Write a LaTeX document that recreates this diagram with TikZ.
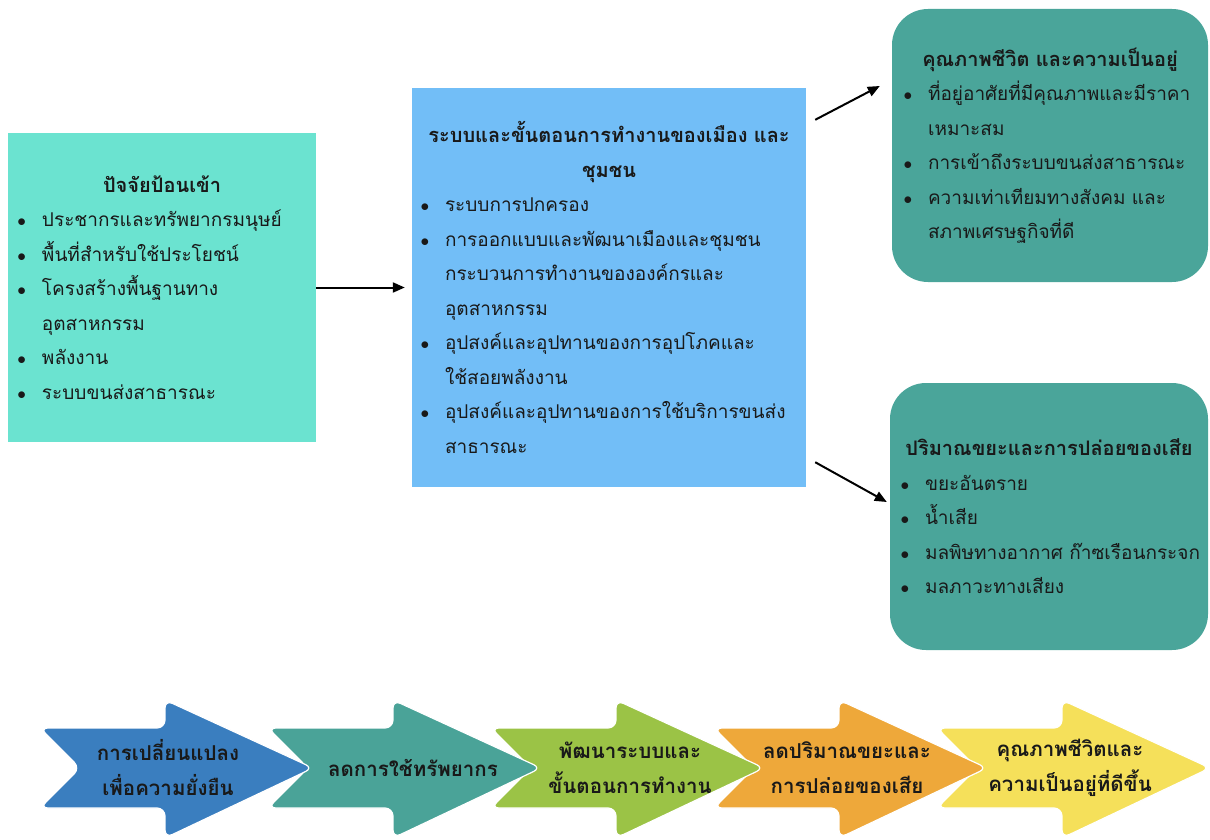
\documentclass[tikz,border=0pt]{standalone}
\usepackage{fontspec}
\setmainfont[Script=Thai]{Loma}
\usetikzlibrary{arrows.meta}

\definecolor{cInput}{HTML}{6BE3D0}
\definecolor{cCity}{HTML}{72BEF7}
\definecolor{cOut}{HTML}{4AA59A}
\definecolor{cBlue}{HTML}{3A7EBF}
\definecolor{cTeal}{HTML}{4AA398}
\definecolor{cGreen}{HTML}{9BC346}
\definecolor{cOrange}{HTML}{EEA83A}
\definecolor{cYellow}{HTML}{F5E05A}

% bullet line with hanging indent, line break inside it, and a centred bold heading
\newcommand{\bitem}[1]{\par\hangindent=26pt\hangafter=1\noindent\makebox[26pt][l]{\hspace{1.5pt}$\bullet$}#1}
\newcommand{\brk}{\hfil\break}
\newcommand{\bhead}[1]{{\centering\bfseries\fontsize{20}{34.5}\selectfont #1\par}}

\begin{document}
\begin{tikzpicture}[x=1pt,y=-1pt,
    box/.style={inner ysep=0pt, font=\fontsize{19}{34.5}\selectfont, text=black!90},
    link/.style={line width=2pt, -{Triangle[length=12pt,width=10pt]}},
    chev/.style={draw=white, line width=1.2pt, rounded corners=8pt},
    chevtext/.style={align=center, font=\bfseries\fontsize{20.5}{35}\selectfont, text=black!90}]
  \useasboundingbox (0,0) rectangle (1210,840);

  % top row
  \node[box, fill=cInput, minimum width=308pt, minimum height=309pt, inner xsep=8pt, text width=292pt]
    (inp) at (162,287.5) {\bhead{ปัจจัยป้อนเข้า}
      \bitem{ประชากรและทรัพยากรมนุษย์}
      \bitem{พื้นที่สำหรับใช้ประโยชน์}
      \bitem{โครงสร้างพื้นฐานทาง\brk อุตสาหกรรม}
      \bitem{พลังงาน}
      \bitem{ระบบขนส่งสาธารณะ}\par};

  \node[box, fill=cCity, minimum width=394pt, minimum height=399pt, inner xsep=7pt, text width=380pt]
    (mid) at (609,287.5) {\bhead{ระบบและขั้นตอนการทำงานของเมือง และ\\ชุมชน}
      \bitem{ระบบการปกครอง}
      \bitem{การออกแบบและพัฒนาเมืองและชุมชน\brk กระบวนการทำงานขององค์กรและ\brk อุตสาหกรรม}
      \bitem{อุปสงค์และอุปทานของการอุปโภคและ\brk ใช้สอยพลังงาน}
      \bitem{อุปสงค์และอุปทานของการใช้บริการขนส่ง\brk สาธารณะ}\par};

  \node[box, fill=cOut, rounded corners=36pt, minimum width=316pt, minimum height=273pt, inner xsep=10pt, text width=296pt]
    (qol) at (1050,145.5) {\bhead{คุณภาพชีวิต และความเป็นอยู่}
      \bitem{ที่อยู่อาศัยที่มีคุณภาพและมีราคา\brk เหมาะสม}
      \bitem{การเข้าถึงระบบขนส่งสาธารณะ}
      \bitem{ความเท่าเทียมทางสังคม และ\brk สภาพเศรษฐกิจที่ดี}\par};

  \node[box, fill=cOut, rounded corners=36pt, minimum width=318pt, minimum height=267pt, inner xsep=9pt, text width=300pt]
    (waste) at (1049,516.5) {\bhead{ปริมาณขยะและการปล่อยของเสีย}
      \bitem{ขยะอันตราย}
      \bitem{น้ำเสีย}
      \bitem{\mbox{มลพิษทางอากาศ ก๊าซเรือนกระจก}}
      \bitem{มลภาวะทางเสียง}\par};

  \draw[link] (inp.east) -- ([xshift=-7pt]mid.west);
  \draw[link] ([xshift=9pt,yshift=-32pt]mid.north east) -- ([xshift=-12pt,yshift=59.5pt]qol.west);
  \draw[link] ([xshift=9pt,yshift=25pt]mid.south east) -- ([xshift=-3pt,yshift=14.5pt]waste.west);

  % bottom chevrons, drawn right to left so each tip lies on the next one
  \foreach \L/\cx/\cl/\tx/\n in {937/1070/cYellow/{คุณภาพชีวิตและ\\ความเป็นอยู่ที่ดีขึ้น}/5,
      714/847/cOrange/{ลดปริมาณขยะและ\\การปล่อยของเสีย}/4,
      491/630/cGreen/{พัฒนาระบบและ\\ขั้นตอนการทำงาน}/3,
      268/413/cTeal/{ลดการใช้ทรัพยากร}/2,
      40/168/cBlue/{การเปลี่ยนแปลง\\เพื่อความยั่งยืน}/1}{
    \draw[chev, fill=\cl] (\L,728) -- ++(125,0) -- ++(0,-28) -- ++(148,68) -- ++(-148,70)
      -- ++(0,-30) -- ++(-125,0) -- ++(40,-40) -- cycle;
    \node[chevtext] (step\n) at (\cx,768) {\tx};
  }
\end{tikzpicture}
\end{document}
